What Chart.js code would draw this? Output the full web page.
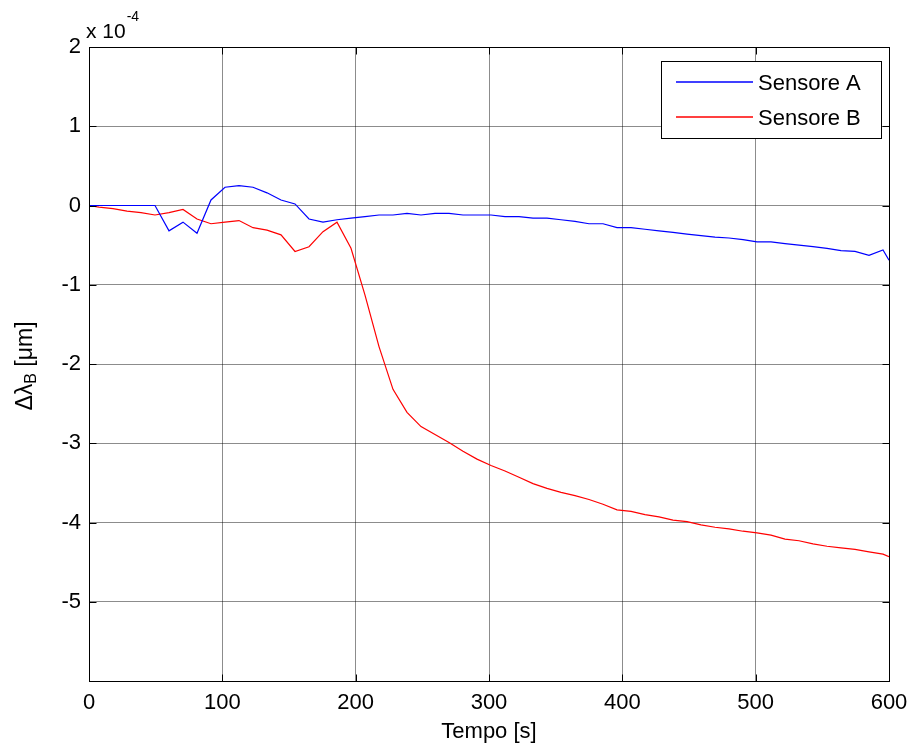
<!DOCTYPE html>
<html><head><meta charset="utf-8">
<script src="https://cdn.jsdelivr.net/npm/chart.js@4.4.0/dist/chart.umd.min.js"></script>
<style>html,body{margin:0;padding:0;background:#fff;overflow:hidden}#wrap{width:913px;height:748px;position:relative}</style>
</head><body><div id="wrap"><canvas id="c" width="913" height="748"></canvas></div>
<script>
// Time [s]
const timeS = [0, 7.5, 18, 28.5, 39, 49.5, 60, 70.5, 81, 91.5, 102, 112.5, 123, 133.5, 144, 154.5, 165, 175.5, 186, 196.5,
  207, 217.5, 228, 238.5, 249, 259.5, 270, 280.5, 291, 301.5, 312, 322.5, 333, 343.5, 354, 364.5, 375, 385.5, 396, 406.5,
  417, 427.5, 438, 448.5, 459, 469.5, 480, 490.5, 501, 511.5, 522, 532.5, 543, 553.5, 564, 574.5, 585, 595.5, 600];
// Delta lambda_B in units of 1e-4 um
const sensoreA = [0, 0, 0, 0, 0, 0, -0.32, -0.21, -0.35, 0.07, 0.23, 0.25, 0.23, 0.16, 0.07, 0.02, -0.17, -0.21, -0.18, -0.16,
  -0.14, -0.12, -0.12, -0.10, -0.12, -0.10, -0.10, -0.12, -0.12, -0.12, -0.14, -0.14, -0.16, -0.16, -0.18, -0.20, -0.23, -0.23, -0.28, -0.28,
  -0.30, -0.32, -0.34, -0.36, -0.38, -0.40, -0.41, -0.43, -0.46, -0.46, -0.48, -0.50, -0.52, -0.54, -0.57, -0.58, -0.63, -0.56, -0.69];
const sensoreB = [0, -0.02, -0.04, -0.07, -0.09, -0.12, -0.09, -0.05, -0.17, -0.23, -0.21, -0.19, -0.28, -0.31, -0.37, -0.58, -0.52, -0.33, -0.21, -0.54,
  -1.13, -1.78, -2.32, -2.61, -2.79, -2.89, -2.99, -3.10, -3.20, -3.28, -3.35, -3.43, -3.51, -3.57, -3.62, -3.66, -3.71, -3.77, -3.84, -3.86,
  -3.90, -3.93, -3.97, -3.99, -4.03, -4.06, -4.08, -4.11, -4.13, -4.16, -4.21, -4.23, -4.27, -4.30, -4.32, -4.34, -4.37, -4.40, -4.43];
const seriesLabels = ['Sensore A', 'Sensore B'];
const seriesColors = ['#0000ff', '#ff0000'];
const xTickValues = [0, 100, 200, 300, 400, 500, 600];
const yTickValues = [2, 1, 0, -1, -2, -3, -4, -5];
const xTitle = 'Tempo [s]';
const FONT = "'Liberation Sans', Arial, sans-serif";

const decor = {
  id: 'decor',
  afterDraw(chart) {
    const {ctx, chartArea: a, scales: {x, y}} = chart;
    ctx.save();
    const L = Math.round(a.left) + 0.5, R = Math.round(a.right) + 0.5, T = Math.round(a.top) + 0.5, B = Math.round(a.bottom) + 0.5;
    ctx.strokeStyle = '#000'; ctx.lineWidth = 1;
    ctx.strokeRect(L, T, R - L, B - T);
    ctx.beginPath();
    const tl = 7;
    xTickValues.forEach(v => { const p = Math.round(x.getPixelForValue(v)) + 0.5; ctx.moveTo(p, B); ctx.lineTo(p, B - tl); ctx.moveTo(p, T); ctx.lineTo(p, T + tl); });
    yTickValues.concat([-6]).forEach(v => { const p = Math.round(y.getPixelForValue(v)) + 0.5; ctx.moveTo(L, p); ctx.lineTo(L + tl, p); ctx.moveTo(R, p); ctx.lineTo(R - tl, p); });
    ctx.stroke();

    // legend
    const lx0 = 661.5, ly0 = 61.5, lx1 = 881.5, ly1 = 138.5;
    ctx.fillStyle = '#fff'; ctx.fillRect(lx0, ly0, lx1 - lx0, ly1 - ly0);
    ctx.strokeStyle = '#000'; ctx.lineWidth = 1; ctx.strokeRect(lx0, ly0, lx1 - lx0, ly1 - ly0);
    const rows = [82, 117];
    seriesLabels.forEach((lab, i) => {
      ctx.beginPath();
      ctx.strokeStyle = seriesColors[i]; ctx.lineWidth = 1.6;
      ctx.moveTo(676, rows[i]); ctx.lineTo(753, rows[i]); ctx.stroke();
      ctx.fillStyle = '#000'; ctx.font = '22px ' + FONT; ctx.textBaseline = 'middle'; ctx.textAlign = 'left';
      ctx.fillText(lab, 758, rows[i] + 2);
    });

    // y axis label with subscript
    ctx.fillStyle = '#000';
    ctx.save();
    ctx.translate(31.5, 366);
    ctx.rotate(-Math.PI / 2);
    ctx.textBaseline = 'alphabetic'; ctx.textAlign = 'left';
    const big = '23px ' + FONT, small = '16px ' + FONT;
    ctx.font = big; const w1 = ctx.measureText('\u0394\u03bb').width;
    ctx.font = small; const w2 = ctx.measureText('B').width;
    ctx.font = big; const w3 = ctx.measureText(' [\u03bcm]').width;
    let sx = -(w1 + w2 + w3) / 2;
    ctx.font = big; ctx.fillText('\u0394\u03bb', sx, 0); sx += w1;
    ctx.font = small; ctx.fillText('B', sx, 4); sx += w2;
    ctx.font = big; ctx.fillText(' [\u03bcm]', sx, 0);
    ctx.restore();

    // exponent
    ctx.textBaseline = 'alphabetic'; ctx.textAlign = 'left';
    ctx.font = '21px ' + FONT;
    ctx.fillText('x 10', 86, 37.5);
    const wx = ctx.measureText('x 10').width;
    ctx.font = '14px ' + FONT;
    ctx.fillText('-4', 86 + wx + 1, 21);
    ctx.restore();
  }
};

new Chart(document.getElementById('c'), {
  type: 'line',
  data: {
    datasets: [
      { label: seriesLabels[0], data: timeS.map((t, i) => ({x: t, y: sensoreA[i]})), borderColor: seriesColors[0], borderWidth: 1.2, pointRadius: 0, tension: 0, fill: false },
      { label: seriesLabels[1], data: timeS.map((t, i) => ({x: t, y: sensoreB[i]})), borderColor: seriesColors[1], borderWidth: 1.2, pointRadius: 0, tension: 0, fill: false }
    ]
  },
  options: {
    responsive: false, animation: false, devicePixelRatio: 1,
    layout: { padding: { top: 47, right: 24, bottom: 0, left: 0 } },
    plugins: { legend: { display: false }, tooltip: { enabled: false } },
    scales: {
      x: {
        type: 'linear', min: 0, max: 600,
        afterBuildTicks: s => { s.ticks = xTickValues.map(v => ({value: v})); },
        afterFit: s => { s.height = 67; s.paddingLeft = 0; s.paddingRight = 0; },
        ticks: { color: '#000', font: { family: FONT, size: 22 }, padding: 9, maxRotation: 0, autoSkip: false, callback: v => String(v) },
        grid: { color: 'rgba(0,0,0,0.45)', lineWidth: 1, drawTicks: false },
        border: { display: true, color: '#000', width: 1 },
        title: { display: true, text: xTitle, color: '#000', font: { family: FONT, size: 22 }, padding: { top: 0, bottom: 3 } }
      },
      y: {
        type: 'linear', min: -6, max: 2,
        afterBuildTicks: s => { s.ticks = yTickValues.map(v => ({value: v})); },
        afterFit: s => { s.width = 89; s.paddingTop = 0; s.paddingBottom = 0; },
        ticks: { color: '#000', font: { family: FONT, size: 22 }, padding: 8, autoSkip: false, callback: v => String(v) },
        grid: { color: 'rgba(0,0,0,0.45)', lineWidth: 1, drawTicks: false },
        border: { display: true, color: '#000', width: 1 }
      }
    }
  },
  plugins: [decor]
});
</script></body></html>
